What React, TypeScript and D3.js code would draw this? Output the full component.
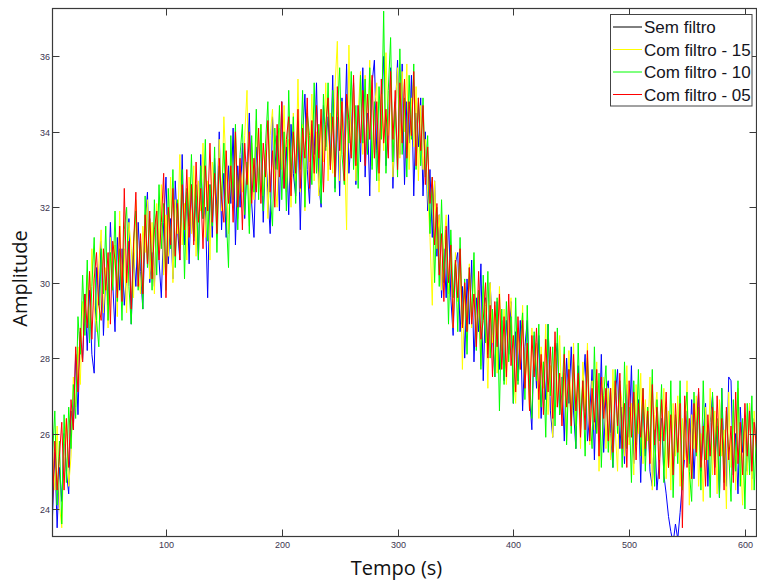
import React from "react";
import * as d3 from "d3";

// time axis (s), one sample every 2 s
const tempo: number[] = d3.range(2, 611, 2);

const xTicks = [100, 200, 300, 400, 500, 600];
const yTicks = [24, 26, 28, 30, 32, 34, 36];

const legendLabels = ["Sem filtro", "Com filtro - 15", "Com filtro - 10", "Com filtro - 05"];

// Sem filtro (drawn blue)
const semFiltro = [
  23.8, 25.5, 23.5, 25.1, 24.2, 26.0, 25.0, 24.4, 26.6, 26.1, 28.1, 26.5, 28.7, 27.9, 29.7,
  28.2, 29.8, 28.1, 27.6, 30.4, 29.4, 31.1, 28.6, 30.3, 29.4, 31.6, 30.0, 28.7, 31.2, 29.8,
  30.9, 29.4, 30.2, 31.7, 28.9, 30.8, 29.9, 31.6, 30.3, 29.3, 31.5, 32.4, 30.0, 30.8, 29.9,
  31.9, 30.6, 29.6, 31.6, 32.8, 30.5, 31.7, 30.1, 32.7, 31.4, 30.6, 33.4, 31.0, 32.4, 30.5,
  32.6, 31.1, 32.3, 30.6, 33.4, 31.7, 32.0, 29.6, 32.6, 31.2, 33.3, 31.8, 34.0, 31.4, 32.9,
  31.2, 33.1, 32.1, 34.1, 31.0, 33.1, 32.0, 33.7, 31.7, 33.1, 34.5, 32.1, 31.2, 33.6, 32.6,
  34.0, 31.6, 33.5, 32.4, 31.3, 34.4, 33.0, 33.9, 31.9, 34.8, 32.5, 33.6, 31.8, 34.2, 32.9,
  32.3, 34.3, 31.4, 33.9, 35.0, 33.0, 32.1, 34.2, 33.4, 35.3, 32.6, 32.0, 34.7, 33.6, 34.4,
  33.1, 35.5, 32.5, 34.4, 32.3, 34.9, 33.5, 35.8, 32.9, 33.9, 35.3, 32.6, 34.7, 33.2, 35.7,
  32.8, 34.5, 32.3, 35.3, 35.9, 33.5, 32.7, 34.9, 36.0, 33.1, 34.0, 35.7, 32.5, 34.5, 35.9,
  33.4, 35.8, 32.6, 34.8, 33.7, 35.5, 32.3, 34.5, 33.6, 34.9, 32.3, 34.0, 31.9, 33.0, 31.2,
  32.7, 30.7, 31.8, 29.6, 30.9, 29.6, 31.8, 29.6, 28.6, 30.5, 30.8, 28.7, 29.9, 28.0, 30.1,
  28.9, 30.6, 27.9, 29.6, 28.7, 30.5, 27.4, 29.6, 28.1, 30.0, 28.6, 27.5, 29.5, 27.7, 29.0,
  27.4, 29.0, 28.1, 29.5, 26.8, 28.7, 27.4, 29.0, 26.6, 28.3, 29.0, 27.0, 26.1, 28.6, 27.2,
  28.6, 26.4, 27.9, 26.9, 28.9, 26.6, 25.9, 27.9, 28.4, 26.5, 27.5, 25.8, 28.0, 26.8, 28.3,
  26.6, 25.6, 27.8, 26.1, 27.2, 28.1, 25.8, 26.5, 27.7, 25.3, 27.4, 25.9, 28.1, 25.5, 27.1,
  27.4, 26.0, 25.1, 27.0, 27.7, 25.6, 26.7, 25.2, 27.3, 25.9, 27.8, 25.2, 26.0, 26.9, 24.7,
  26.9, 25.4, 26.7, 25.0, 24.6, 26.1, 24.5, 25.2, 26.4, 24.9, 24.4, 23.8, 23.4, 23.1, 23.6,
  23.2, 23.9, 24.7, 25.4, 26.6, 25.2, 26.9, 24.8, 26.2, 27.1, 25.0, 26.0, 26.8, 24.6, 26.3,
  27.0, 25.1, 26.2, 24.3, 27.2, 25.3, 24.6, 27.5, 27.4, 24.9, 26.0, 24.4, 26.7, 25.5, 26.4,
  25.0, 26.8, 24.8, 26.4, 25.6,
];

// Com filtro - 15 (yellow)
const filtro15 = [
  25.6, 24.5, 26.2, 24.1, 23.5, 25.7, 26.4, 24.6, 25.4, 27.5, 26.7, 28.3, 27.3, 29.5, 28.9,
  30.2, 28.8, 30.9, 29.4, 28.7, 30.5, 31.4, 29.2, 30.4, 28.8, 31.2, 29.9, 31.0, 29.1, 31.9,
  29.8, 30.9, 29.2, 31.6, 30.9, 29.6, 32.2, 30.3, 29.7, 31.5, 30.8, 32.2, 30.1, 31.6, 29.7,
  32.1, 30.9, 32.6, 30.2, 31.8, 30.7, 32.8, 30.0, 32.2, 31.3, 33.4, 31.0, 32.1, 30.6, 32.8,
  31.3, 33.1, 30.7, 32.7, 31.9, 33.7, 31.2, 32.7, 30.6, 33.2, 32.5, 31.6, 33.8, 31.9, 34.4,
  33.0, 31.3, 33.5, 32.1, 34.1, 31.7, 33.1, 32.4, 33.9, 35.1, 31.5, 33.7, 32.2, 34.3, 32.4,
  34.2, 32.3, 33.5, 31.7, 33.9, 34.6, 32.7, 32.0, 34.1, 33.0, 34.7, 32.4, 33.8, 32.0, 34.5,
  32.7, 35.4, 32.4, 34.2, 31.9, 34.6, 33.2, 35.0, 32.7, 34.0, 32.3, 34.6, 33.2, 35.3, 32.7,
  34.5, 32.9, 35.2, 36.4, 32.7, 34.8, 33.7, 31.4, 36.3, 33.4, 35.2, 32.7, 34.5, 35.6, 33.4,
  35.5, 33.6, 35.9, 33.1, 34.6, 35.3, 32.4, 35.0, 33.5, 36.1, 33.9, 35.4, 32.8, 34.6, 35.7,
  33.3, 35.6, 34.0, 35.8, 33.0, 34.9, 33.6, 35.2, 32.7, 34.7, 33.0, 33.8, 32.4, 31.2, 29.4,
  32.7, 30.9, 31.8, 29.8, 31.0, 31.8, 29.7, 30.8, 28.8, 30.8, 29.5, 30.9, 27.7, 29.9, 28.7,
  30.5, 28.8, 30.6, 28.5, 29.5, 27.8, 29.9, 29.4, 27.2, 30.0, 28.4, 29.4, 27.6, 29.9, 28.2,
  29.3, 27.3, 28.8, 29.6, 27.6, 26.8, 28.8, 27.7, 29.4, 27.2, 28.2, 26.6, 28.8, 27.7, 28.4,
  26.4, 28.3, 27.2, 28.9, 26.5, 27.8, 25.9, 28.4, 26.7, 28.6, 26.5, 27.6, 25.8, 28.2, 26.4,
  28.4, 26.2, 27.4, 25.6, 27.9, 26.6, 28.4, 25.7, 27.4, 26.1, 27.9, 25.0, 27.0, 27.5, 25.6,
  27.2, 25.3, 27.7, 26.1, 25.0, 27.3, 26.8, 25.4, 27.8, 25.7, 26.8, 24.9, 27.3, 26.0, 27.6,
  25.2, 26.9, 25.8, 27.5, 24.5, 26.5, 27.1, 25.3, 26.0, 27.2, 24.8, 26.6, 24.5, 26.8, 25.4,
  27.0, 24.6, 26.4, 25.3, 27.4, 24.1, 26.5, 25.6, 27.0, 24.6, 26.0, 24.2, 26.7, 25.3, 27.2,
  24.9, 26.6, 24.4, 26.9, 25.4, 26.1, 24.0, 27.1, 25.1, 26.6, 24.5, 27.2, 25.5, 24.1, 26.4,
  24.9, 26.8, 24.5, 26.6, 25.2,
];

// Com filtro - 10 (green)
const filtro10 = [
  25.4, 26.6, 24.1, 25.8, 23.6, 26.5, 24.7, 26.7, 25.6, 27.3, 26.4, 29.1, 28.1, 30.2, 28.6,
  30.6, 28.4, 29.9, 31.2, 29.0, 28.3, 30.9, 29.7, 31.5, 29.0, 30.8, 29.8, 31.9, 29.5, 30.9,
  29.0, 31.4, 32.0, 29.9, 28.9, 31.1, 31.9, 29.8, 31.1, 29.3, 32.3, 30.4, 31.7, 29.8, 32.2,
  30.2, 32.6, 30.9, 32.1, 29.8, 32.5, 30.9, 33.0, 30.4, 32.2, 30.9, 33.0, 30.1, 32.5, 31.5,
  33.4, 31.2, 32.6, 30.6, 33.1, 31.7, 33.8, 31.1, 32.6, 31.5, 33.6, 30.8, 33.1, 32.2, 33.7,
  31.8, 30.4, 33.9, 32.2, 34.2, 31.4, 33.4, 34.2, 31.8, 33.2, 31.3, 33.9, 32.4, 34.6, 32.2,
  34.2, 31.9, 33.7, 34.8, 32.3, 31.5, 34.1, 33.0, 34.7, 32.2, 34.0, 31.9, 35.1, 32.8, 34.4,
  32.1, 34.1, 33.0, 35.1, 32.0, 34.5, 33.9, 32.6, 35.3, 32.9, 34.2, 32.1, 35.0, 33.5, 35.3,
  33.0, 35.1, 32.4, 34.4, 35.7, 33.4, 32.6, 34.9, 33.7, 35.6, 33.0, 34.7, 32.5, 35.5, 33.7,
  35.4, 33.4, 35.7, 33.0, 34.8, 32.7, 35.2, 33.8, 37.2, 32.9, 35.1, 36.5, 33.2, 34.8, 32.8,
  36.2, 33.4, 34.9, 32.8, 35.5, 33.8, 35.8, 33.0, 34.9, 33.1, 34.9, 32.8, 33.9, 31.3, 32.8,
  30.0, 32.0, 29.9, 32.2, 30.0, 31.4, 28.9, 31.4, 29.6, 30.6, 28.7, 31.2, 28.9, 30.1, 28.1,
  30.4, 29.1, 30.8, 28.2, 29.8, 27.7, 30.2, 28.4, 30.3, 28.0, 29.3, 27.5, 29.6, 26.6, 29.3,
  27.3, 29.5, 27.9, 29.1, 26.8, 29.6, 27.3, 28.4, 29.2, 26.9, 29.4, 27.3, 26.4, 28.7, 27.4,
  28.9, 26.7, 27.9, 25.9, 28.9, 27.0, 28.3, 26.2, 28.8, 26.5, 27.1, 28.3, 25.7, 27.7, 26.0,
  27.9, 25.6, 28.4, 26.4, 27.4, 25.4, 28.0, 26.5, 25.6, 28.3, 26.0, 27.6, 25.1, 27.0, 27.8,
  25.5, 27.2, 25.1, 27.7, 26.0, 27.4, 25.1, 27.9, 25.6, 26.7, 24.7, 27.4, 25.7, 27.7, 25.4,
  27.2, 25.0, 26.7, 25.6, 27.7, 24.6, 26.9, 25.8, 27.3, 24.7, 26.7, 25.1, 27.4, 24.3, 26.5,
  25.2, 27.4, 24.5, 26.5, 27.1, 25.0, 24.2, 27.1, 25.4, 26.7, 24.5, 27.4, 25.3, 26.2, 24.3,
  27.1, 25.3, 26.4, 24.3, 27.2, 24.7, 26.6, 25.5, 24.2, 26.9, 25.0, 27.4, 24.6, 26.4, 24.0,
  26.8, 24.9, 27.0, 24.5, 26.1,
];

// Com filtro - 05 (red)
const filtro05 = [
  24.1, 25.8, 24.5, 25.4, 26.3, 24.5, 26.4, 25.1, 26.9, 26.1, 28.3, 27.1, 28.8, 27.9, 29.7,
  28.8, 30.3, 28.5, 30.1, 30.8, 29.4, 29.0, 30.9, 29.8, 30.8, 28.9, 31.1, 30.6, 29.6, 31.5,
  29.5, 32.5, 30.0, 31.1, 29.3, 31.0, 32.4, 29.9, 31.3, 29.7, 31.8, 30.5, 31.9, 30.1, 31.4,
  31.9, 30.6, 31.6, 32.9, 29.6, 32.0, 31.0, 32.5, 30.7, 32.1, 30.6, 32.6, 31.4, 33.0, 31.2,
  32.6, 31.0, 33.2, 31.6, 32.5, 30.9, 33.1, 31.9, 33.7, 31.6, 32.9, 31.3, 33.3, 32.2, 31.6,
  33.5, 32.1, 33.1, 31.6, 34.0, 32.0, 33.3, 31.4, 33.7, 32.6, 34.0, 32.1, 33.3, 32.4, 34.1,
  32.1, 33.7, 32.8, 34.3, 32.4, 33.5, 32.0, 34.2, 32.8, 34.8, 32.5, 33.8, 34.4, 32.3, 34.0,
  32.9, 34.6, 32.5, 34.1, 33.3, 34.9, 32.5, 34.3, 32.9, 34.7, 33.3, 34.6, 32.4, 34.2, 34.9,
  33.0, 34.4, 32.8, 35.2, 33.5, 34.8, 32.7, 35.0, 34.3, 33.3, 35.5, 33.1, 34.7, 33.7, 35.1,
  33.1, 35.0, 33.8, 35.5, 33.3, 34.8, 32.9, 35.4, 33.7, 34.6, 33.3, 35.6, 33.8, 35.1, 33.0,
  35.3, 33.7, 35.4, 33.3, 34.8, 33.9, 35.6, 33.1, 34.9, 33.5, 34.7, 32.6, 33.6, 32.1, 32.8,
  31.0, 32.1, 30.2, 31.3, 29.5, 31.5, 30.0, 31.0, 28.8, 30.6, 29.6, 30.9, 28.8, 30.0, 28.7,
  30.4, 28.9, 29.7, 28.3, 30.3, 28.5, 29.0, 30.0, 28.0, 29.4, 27.5, 29.5, 28.3, 29.7, 27.7,
  29.1, 27.5, 29.7, 27.8, 28.6, 27.1, 29.1, 27.7, 29.0, 27.2, 28.4, 26.6, 28.6, 27.5, 28.8,
  26.9, 28.1, 26.5, 28.5, 27.1, 28.3, 26.4, 28.7, 26.7, 27.6, 26.2, 28.1, 26.7, 27.7, 26.2,
  28.1, 26.6, 27.6, 25.9, 27.4, 26.1, 28.2, 25.8, 27.2, 26.3, 27.7, 25.4, 27.5, 26.4, 27.2,
  25.8, 27.2, 25.5, 27.4, 26.2, 27.6, 25.6, 26.8, 25.1, 27.4, 25.9, 27.1, 25.3, 26.8, 25.9,
  27.2, 25.6, 26.6, 25.2, 27.3, 25.7, 26.7, 24.8, 26.9, 25.8, 27.1, 25.1, 26.5, 24.9, 26.8,
  25.5, 26.8, 23.5, 27.0, 25.1, 26.4, 24.8, 26.8, 25.5, 27.2, 25.1, 26.2, 24.6, 26.5, 25.4,
  26.7, 24.9, 27.0, 25.4, 26.4, 24.5, 26.7, 25.3, 26.2, 24.7, 27.1, 25.2, 26.3, 24.9, 26.8,
  25.4, 26.6, 25.0, 26.3, 25.6,
];

const seriesData = [semFiltro, filtro15, filtro10, filtro05];
const lineColors = ["#0000ff", "#ffff00", "#00ff00", "#ff0000"];
const legendColors = ["#000000", "#ffff00", "#00ff00", "#ff0000"];

const W = 757;
const H = 580;
const L = 52.5;
const R = 756.5;
const T = 8.5;
const B = 536.5;

export default function App() {
  const x = d3.scaleLinear().domain([2, 610]).range([L, R]);
  const y = d3.scaleLinear().domain([23.27, 37.27]).range([B, T]);
  const line = d3
    .line<number>()
    .x((_, i) => x(tempo[i]))
    .y((d) => y(d));

  const axisColor = "#3a3a3a";
  const tickFont = "'Liberation Sans', Arial, sans-serif";
  const legendRowY = [27, 49.5, 72, 94.5];

  return (
    <svg
      width={W}
      height={H}
      style={{ position: "absolute", left: 0, top: 0, background: "#fff" }}
    >
      <defs>
        <clipPath id="plotclip">
          <rect x={L} y={T} width={R - L} height={B - T} />
        </clipPath>
      </defs>
      <rect x={0} y={0} width={W} height={H} fill="#fff" />
      <g clipPath="url(#plotclip)">
        {seriesData.map((s, k) => (
          <path
            key={k}
            d={line(s) || ""}
            fill="none"
            stroke={lineColors[k]}
            strokeWidth={1}
          />
        ))}
      </g>

      {/* frame */}
      <rect x={L} y={T} width={R - L} height={B - T} fill="none" stroke={axisColor} strokeWidth={1.2} />

      {/* x ticks */}
      {xTicks.map((t) => {
        const px = Math.round(x(t)) + 0.5;
        return (
          <g key={"x" + t}>
            <line x1={px} x2={px} y1={B} y2={B - 7} stroke={axisColor} strokeWidth={1} />
            <line x1={px} x2={px} y1={T} y2={T + 7} stroke={axisColor} strokeWidth={1} />
            <text x={px} y={548} textAnchor="middle" fontFamily={tickFont} fontSize={9} fill="#3c3550">
              {t}
            </text>
          </g>
        );
      })}

      {/* y ticks */}
      {yTicks.map((t) => {
        const py = Math.round(y(t)) + 0.5;
        return (
          <g key={"y" + t}>
            <line x1={L} x2={L + 7} y1={py} y2={py} stroke={axisColor} strokeWidth={1} />
            <line x1={R} x2={R - 7} y1={py} y2={py} stroke={axisColor} strokeWidth={1} />
            <text x={50} y={py + 3.2} textAnchor="end" fontFamily={tickFont} fontSize={9} fill="#3c3550">
              {t}
            </text>
          </g>
        );
      })}

      {/* axis labels */}
      <text
        x={396.5}
        y={575}
        textAnchor="middle"
        fontFamily="'Open Sans', 'Noto Sans', sans-serif"
        fontSize={20}
        fill="#111"
      >
        Tempo (s)
      </text>
      <text
        transform="translate(26.5,278.5) rotate(-90)"
        textAnchor="middle"
        fontFamily="'Open Sans', 'Noto Sans', sans-serif"
        fontSize={20}
        fill="#111"
      >
        Amplitude
      </text>

      {/* legend */}
      <g>
        <rect x={610.5} y={14.5} width={141.5} height={91.5} fill="#fff" stroke="#444" strokeWidth={1} />
        {legendLabels.map((lab, i) => (
          <g key={lab}>
            <line
              x1={613}
              x2={642}
              y1={legendRowY[i]}
              y2={legendRowY[i]}
              stroke={legendColors[i]}
              strokeWidth={1}
            />
            <text x={644} y={legendRowY[i] + 6} fontFamily={tickFont} fontSize={17} fill="#141420">
              {lab}
            </text>
          </g>
        ))}
      </g>
    </svg>
  );
}
